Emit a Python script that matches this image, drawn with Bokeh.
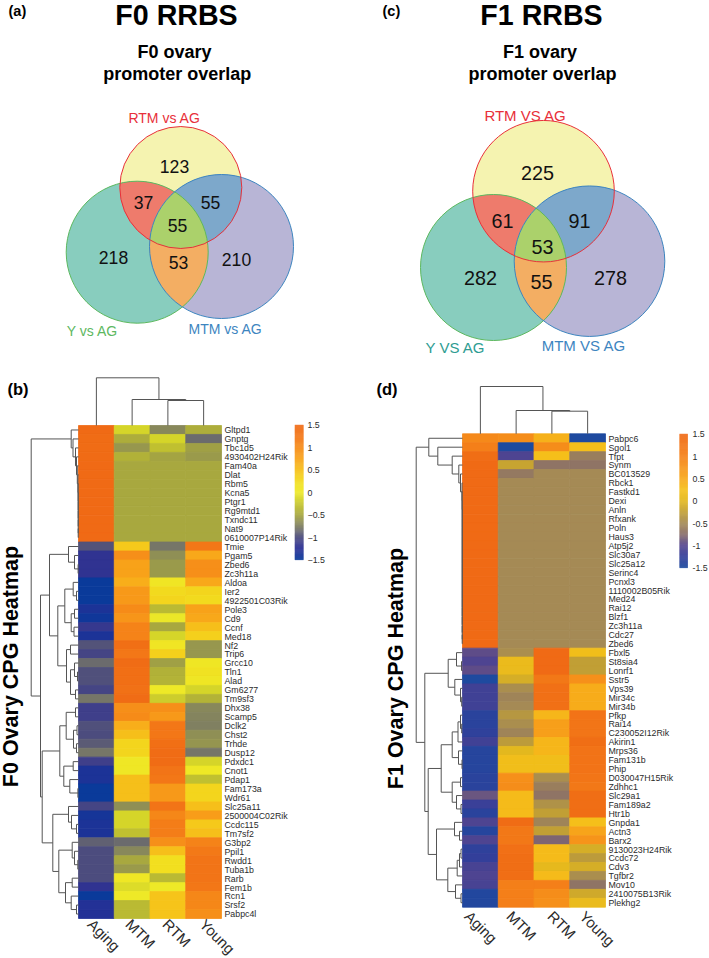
import math
import numpy as np
from bokeh.plotting import figure
from bokeh.models import ColumnDataSource, LinearColorMapper, Range1d
from bokeh.transform import transform
from bokeh.core.properties import value
from bokeh.embed import file_html
from bokeh.resources import INLINE

FONT = value("Liberation Sans")
samples = ["Aging", "MTM", "RTM", "Young"]

genes_f0 = ["Gltpd1","Gnptg","Tbc1d5","4930402H24Rik","Fam40a","Dlat","Rbm5","Kcna5","Ptgr1","Rg9mtd1","Txndc11","Nat9","0610007P14Rik",
 "Tmie","Pgam5","Zbed6","Zc3h11a","Aldoa","Ier2","4922501C03Rik","Pole3","Cd9","Ccnf","Med18","Nf2","Trip6","Grcc10","Tln1","Alad","Gm6277","Tm9sf3",
 "Dhx38","Scamp5","Dclk2","Chst2","Trhde","Dusp12","Pdxdc1","Cnot1","Pdap1","Fam173a","Wdr61","Slc25a11","2500004C02Rik","Ccdc115","Tm7sf2",
 "G3bp2","Ppil1","Rwdd1","Tuba1b","Rarb","Fem1b","Rcn1","Srsf2","Pabpc4l"]
aging_f0 = [1.5,1.45,1.45,1.47,1.5,1.5,1.5,1.5,1.5,1.5,1.5,1.5,1.5,
 -.95,-1.2,-1.2,-1.2,-1.5,-1.5,-1.5,-1.35,-1.45,-1.15,-1.35,-.95,-1.05,-.85,-.98,-.98,-1.05,-.8,
 -1.1,-1.1,-.98,-1.0,-.92,-.8,-1.1,-1.35,-1.35,-1.5,-1.5,-1.05,-1.4,-1.35,-1.35,
 -.9,-1.0,-1.0,-1.0,-1.0,-1.2,-1.5,-1.3,-1.3]
mtm_f0 = [-.15,-.45,-.6,-.42,-.5,-.5,-.5,-.5,-.5,-.5,-.5,-.5,-.5,
 .4,.95,.75,.75,.65,.85,.85,1.0,.9,1.1,1.1,1.4,1.25,1.45,1.4,1.4,1.35,1.45,
 .95,1.0,.65,.5,.3,.3,.05,.05,.5,.5,.5,-.65,-.15,-.15,-.3,
 -.85,-.7,-.5,-.58,.05,-.1,.02,-.35,-.35]
rtm_f0 = [-.7,-.15,-.3,-.52,-.5,-.5,-.5,-.5,-.5,-.5,-.5,-.5,-.5,
 -.8,-.65,-.58,-.58,.1,.25,.3,-.35,-.02,-.5,-.15,.1,.35,-.55,-.42,-.4,0,-.2,
 .95,.85,1.25,1.25,1.4,1.45,1.45,1.3,1.25,.85,.85,1.3,1.05,1.15,1.15,
 .95,.5,.2,.2,-.35,.02,.45,.45,.45]
young_f0 = [-.45,-.85,-.55,-.58,-.5,-.5,-.5,-.5,-.5,-.5,-.5,-.5,-.5,
 1.25,.7,.95,.95,.7,.3,.25,.75,.7,.5,.35,-.6,-.6,.08,.15,.08,-.15,-.4,
 -.7,-.72,-.75,-.65,-.62,-.8,-.15,.03,-.3,.3,.3,.5,.8,.4,.5,
 1.1,1.2,1.3,1.3,1.3,1.25,1.05,1.05,.95]

genes_f1 = ["Pabpc6","Sgol1","Tfpt","Synm","BC013529","Rbck1","Fastkd1","Dexi","Anln","Rfxank","Poln","Haus3","Atp5j2","Slc30a7","Slc25a12","Serinc4",
 "Pcnxl3","1110002B05Rik","Med24","Rai12","Blzf1","Zc3h11a","Cdc27","Zbed6","Fbxl5","St8sia4","Lonrf1","Sstr5","Vps39","Mir34c","Mir34b",
 "Pfkp","Rai14","C230052I12Rik","Akirin1","Mrps36","Fam131b","Phip","D030047H15Rik","Zdhhc1","Slc29a1","Fam189a2","Htr1b",
 "Gnpda1","Actn3","Barx2","9130023H24Rik","Ccdc72","Cdv3","Tgfbr2","Mov10","2410075B13Rik","Plekhg2"]
aging_f1 = [.9,1.05,1.4,1.5,1.5,1.5,1.5,1.5,1.5,1.5,1.5,1.5,1.5,1.5,1.5,1.5,1.5,1.5,1.5,1.5,1.5,1.5,1.5,1.5,
 -.95,-1.05,-.95,-1.5,-1.15,-1.15,-1.15,-1.35,-1.35,-1.3,-1.15,-1.4,-1.4,-1.4,-1.35,-1.35,-.9,-1.2,-1.35,
 -1.05,-1.4,-1.05,-1.3,-1.25,-1.1,-1.05,-1.1,-1.45,-1.45]
mtm_f1 = [.85,-1.5,-1.05,-.2,-.65,-.5,-.5,-.5,-.5,-.5,-.5,-.5,-.5,-.5,-.5,-.5,-.5,-.5,-.5,-.5,-.5,-.5,-.5,-.5,
 -.45,.12,.1,-.1,-.45,-.55,-.5,-.35,-.45,-.55,-.3,0,.2,.2,.8,.85,.3,.3,.3,
 1.45,1.2,1.2,1.35,1.4,1.4,1.4,1.05,1.05,1.05]
rtm_f1 = [.4,.85,.25,-.7,-.5,-.5,-.5,-.5,-.5,-.5,-.5,-.5,-.5,-.5,-.5,-.5,-.5,-.5,-.5,-.5,-.5,-.5,-.5,-.5,
 1.5,1.5,1.5,1.2,1.35,1.35,1.35,.35,.6,.6,.35,.35,.2,.2,-.45,-.6,-.7,-.4,-.25,
 -.55,-.25,-.8,.3,.3,.05,.3,1.05,.85,.8]
young_f1 = [-1.5,.25,-.6,-.7,-.5,-.5,-.5,-.5,-.5,-.5,-.5,-.5,-.5,-.5,-.5,-.5,-.5,-.5,-.5,-.5,-.5,-.5,-.5,-.5,
 .2,-.25,-.25,.8,.45,.45,.45,1.3,1.25,1.25,1.4,1.3,1.3,1.3,1.25,1.2,1.4,1.4,1.4,
 .25,.55,.75,-.1,-.3,-.1,-.45,-.7,-.15,.1]

L = 0
def comb(hs):
    node = L
    for h in reversed(hs):
        node = (h, L, node)
    return node

rowtree_f0 = (47.3,
  comb([7.3,5.5,3,2,1.2,.6,.4,.3,.3,.3,.3,.3]),
  (38,
   (29,
    (10,L,(4,L,(.4,L,L))),
    (20.7,
     (13.7,(5.3,L,(2,L,L)),(7.3,(4,L,L),(4.5,L,L))),
     (12,(8,L,L),(8,(4,L,(1,L,L)),(3,L,L))))),
   (36.3,
    (18.7,
     (12.3,(3,L,L),(5,(1.5,L,L),(2,L,L))),
     (14.7,(5.3,L,L),(8.7,L,(.6,L,L)))),
    (25.7,
     (10,L,(7,L,(2,L,L))),
     (19.7,
      (6.3,L,(4,L,(.7,L,L))),
      (13,(6.3,L,L),(7.3,L,(2,L,L))))))))
coltree_f0 = (47.7, L, (26, L, (25, L, L)))

rowtree_f1 = (46.3,
  comb([33.7,24.7,10.3,3.7,2]+[.5]*2+[.3]*16),
  (37.7,
   (14.3,(6,L,(1,L,L)),(7.7,L,(2,L,(.8,L,L)))),
   (34.3,
    (21.3,
     (10.3,(4.5,(2,L,(.8,L,L)),L),(4,L,(.5,L,L))),
     (10.3,(2,L,L),(6,L,(1.5,L,L)))),
    (26,
     (8,L,(3,L,L)),
     (14.7,(5.3,(3,(1.5,L,L),L),L),(7,L,(1.5,L,L)))))))
coltree_f1 = (47.3, L, (23.3, L, (22.6, L, L)))

counts_f0 = [123,37,55,55,218,53,210]
counts_f1 = [225,61,91,53,282,55,278]

W, H = 709, 958
p = figure(width=W, height=H, x_range=Range1d(0, W), y_range=Range1d(H, 0),
           output_backend="svg", toolbar_location=None, min_border=0,
           outline_line_color=None, background_fill_color="white", border_fill_color="white")
p.axis.visible = False
p.grid.visible = False

def ramp(anchors):
    xs = [a[0] for a in anchors]
    cols = [tuple(int(a[1][i:i+2], 16) for i in (1, 3, 5)) for a in anchors]
    g = np.linspace(-1.5, 1.5, 256)
    ch = [np.interp(g, xs, [c[k] for c in cols]) for k in range(3)]
    return ["#%02x%02x%02x" % (int(ch[0][i]), int(ch[1][i]), int(ch[2][i])) for i in range(256)]

pal_f0 = ramp([(-1.5,"#0a3a9a"),(-1.25,"#2a2f95"),(-1.1,"#3f3f8a"),(-.95,"#555578"),(-.8,"#787868"),(-.65,"#909055"),(-.5,"#a8a83f"),
               (-.3,"#c0c030"),(-.15,"#d5d52a"),(0,"#eeea28"),(.2,"#f2e020"),(.45,"#f6c51a"),(.75,"#f9a31a"),(1.2,"#f47a18"),(1.5,"#f06a15")])
pal_f1 = ramp([(-1.5,"#1e4a9f"),(-1.25,"#343f9a"),(-1,"#56468f"),(-.75,"#8a6f6a"),(-.5,"#a58a55"),(-.25,"#c2a035"),
               (0,"#e3b81f"),(.25,"#f5c01a"),(.5,"#f8a81a"),(1,"#f5821a"),(1.5,"#f06a15")])

def heatmap(left, top, cw, rh, genes, cols, pal, cb):
    mapper = LinearColorMapper(palette=pal, low=-1.5, high=1.5)
    x0, x1, y0, y1, v = [], [], [], [], []
    for j, c in enumerate(cols):
        for i, val in enumerate(c):
            x0.append(left + j*cw); x1.append(left + (j+1)*cw)
            y0.append(top + i*rh); y1.append(top + (i+1)*rh); v.append(val)
    src = ColumnDataSource(dict(left=x0, right=x1, top=y0, bottom=y1, v=v))
    p.quad(left="left", right="right", top="top", bottom="bottom", source=src,
           fill_color=transform("v", mapper), line_color=transform("v", mapper), line_width=.8)
    ys = [top + (i+.5)*rh + .4 for i in range(len(genes))]
    p.text([left + 4*cw + 3]*len(genes), ys, text=genes, text_font=FONT, text_font_size="8.8px",
           text_color="#2b2b2b", text_align="left", text_baseline="middle")
    bl, br, bt, bb, labels, lx = cb
    n = 256
    g = np.linspace(1.5, -1.5, n)
    h = (bb-bt)/n
    src2 = ColumnDataSource(dict(left=[bl]*n, right=[br]*n, top=[bt+k*h for k in range(n)], bottom=[bt+(k+1)*h+.3 for k in range(n)], v=g))
    p.quad(left="left", right="right", top="top", bottom="bottom", source=src2,
           fill_color=transform("v", mapper), line_color=None)
    ticks = [1.5, 1, .5, 0, -.5, -1, -1.5]
    p.text([lx]*7, [bt + (1.5-t)/3*(bb-bt) + .5 for t in ticks], text=labels, text_font=FONT, text_font_size="8.8px",
           text_color="#2b2b2b", text_align="left", text_baseline="middle")

def layout(node, counter):
    if node == L:
        pos = counter[0]; counter[0] += 1
        return pos + .5, 0.0, []
    h, a, b = node
    pa, ha, sa = layout(a, counter)
    pb, hb, sb = layout(b, counter)
    return (pa+pb)/2, h, sa + sb + [(pa, ha, pb, hb, h)]

def dendro_rows(tree, left, top, rh):
    _, _, segs = layout(tree, [0])
    xs, ys = [], []
    for pa, ha, pb, hb, h in segs:
        xs.append([left-ha, left-h, left-h, left-hb])
        ys.append([top+pa*rh, top+pa*rh, top+pb*rh, top+pb*rh])
    p.multi_line(xs, ys, line_color="#555555", line_width=1)

def dendro_cols(tree, left, top, cw):
    _, _, segs = layout(tree, [0])
    xs, ys = [], []
    for pa, ha, pb, hb, h in segs:
        xs.append([left+pa*cw, left+pa*cw, left+pb*cw, left+pb*cw])
        ys.append([top-ha, top-h, top-h, top-hb])
    p.multi_line(xs, ys, line_color="#555555", line_width=1)

def region(circles, inside):
    pts = []
    for i in inside:
        cx, cy, r = circles[i]
        for t in np.linspace(0, 2*math.pi, 1440, endpoint=False):
            x, y = cx + r*math.cos(t), cy + r*math.sin(t)
            if all((x-circles[k][0])**2 + (y-circles[k][1])**2 <= circles[k][2]**2 for k in inside if k != i):
                pts.append((x, y))
    mx = sum(q[0] for q in pts)/len(pts); my = sum(q[1] for q in pts)/len(pts)
    pts.sort(key=lambda q: math.atan2(q[1]-my, q[0]-mx))
    return [q[0] for q in pts], [q[1] for q in pts]

def venn(circles, counts, pos, fs):
    base = ["#f5f3b0", "#88cdbe", "#b8b5d6"]
    edge = ["#e8303a", "#5db85f", "#3d85bf"]
    for i in (0, 2, 1):
        p.circle([circles[i][0]], [circles[i][1]], radius=circles[i][2], fill_color=base[i], line_color=None)
    for ins, col in (((0,1),"#ee7b6c"), ((0,2),"#7da8cb"), ((1,2),"#f3ae63"), ((0,1,2),"#abd16b")):
        xs, ys = region(circles, ins)
        p.patch(xs, ys, fill_color=col, line_color=None)
    for i in (1, 2, 0):
        p.circle([circles[i][0]], [circles[i][1]], radius=circles[i][2], fill_color=None, line_color=edge[i], line_width=1)
    p.text([q[0] for q in pos], [q[1] for q in pos], text=[str(c) for c in counts], text_font=FONT,
           text_font_size=fs, text_color="#111111", text_align="center", text_baseline="middle")

def label(x, y, s, size, color="#000000", bold=False, angle=0, align="center"):
    p.text([x], [y], text=[s], text_font=FONT, text_font_size=size, text_color=color,
           text_font_style="bold" if bold else "normal", text_align=align, text_baseline="middle", angle=angle)

# Venn diagrams
venn([(180.3,187,61), (136.7,251.7,71), (221,246,72)], counts_f0,
     [(174,166),(143,202),(210,201.5),(177,225),(113,257),(178,262),(236,259)], "17.6px")
venn([(543,190.7,70.8), (493,267,73), (589,260.7,75.3)], counts_f1,
     [(537,172.7),(502,220),(579,220),(542,246),(480,277),(541,281),(610,277)], "19.8px")

label(164,117,"RTM vs AG","14px","#e8303a"); label(92,330,"Y vs AG","14px","#5db85f"); label(225,328,"MTM vs AG","14px","#3d85bf")
label(525,114.7,"RTM VS AG","15px","#e8303a"); label(455,346.7,"Y VS AG","15px","#2e9c92"); label(583.3,345,"MTM VS AG","15px","#3d85bf")

# Titles
label(176,14,"F0 RRBS","28.6px",bold=True); label(541,14,"F1 RRBS","28.6px",bold=True)
label(174,51,"F0 ovary","18px",bold=True); label(176.7,73,"promoter overlap","18px",bold=True)
label(539.5,51,"F1 ovary","18px",bold=True); label(542,73,"promoter overlap","18px",bold=True)
label(8,10,"(a)","14.5px",bold=True,align="left"); label(382,10,"(c)","14.5px",bold=True,align="left")
label(7,388,"(b)","16.5px",bold=True,align="left"); label(376,388,"(d)","16.5px",bold=True,align="left")
label(10,666,"F0 Ovary CPG Heatmap","21.5px",bold=True,angle=math.pi/2)
label(395,668,"F1 Ovary CPG Heatmap","21.5px",bold=True,angle=math.pi/2)

# Heatmaps
T0, T1 = 425.0, 433.3
heatmap(78, T0, 35.75, 493/55, genes_f0, [aging_f0,mtm_f0,rtm_f0,young_f0], pal_f0,
        (294.3,303,424.3,559.3,["1.5","1","0.5","0","\u22120.5","\u22121","\u22121.5"],307))
heatmap(462, T1, 35.75, 473.4/53, genes_f1, [aging_f1,mtm_f1,rtm_f1,young_f1], pal_f1,
        (679,687.3,433.3,567.3,["1.5","1","0.5","0","-0.5","-1","-1.5"],692))
dendro_rows(rowtree_f0, 78, T0, 493/55); dendro_cols(coltree_f0, 78, T0, 35.75)
dendro_rows(rowtree_f1, 462, T1, 473.4/53); dendro_cols(coltree_f1, 462, T1, 35.75)

for s, x in zip(samples, [90,128,165,202]):
    label(x, 921, s, "15px", "#2b2b2b", angle=-math.pi/4, align="left")
for s, x in zip(samples, [467,509,550,582]):
    label(x, 913, s, "15px", "#2b2b2b", angle=-math.pi/4, align="left")

open("out.html", "w").write(file_html(p, INLINE))
